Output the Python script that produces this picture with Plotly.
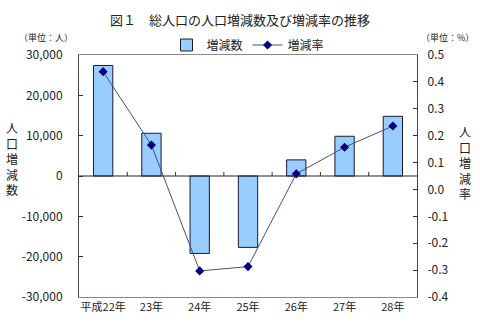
import plotly.graph_objects as go

categories = ["平成22年", "23年", "24年", "25年", "26年", "27年", "28年"]
change_count = [27400, 10600, -19200, -17700, 4000, 9850, 14800]
change_rate = [0.438, 0.165, -0.303, -0.287, 0.058, 0.157, 0.236]
left_ticks = [-30000, -20000, -10000, 0, 10000, 20000, 30000]
left_ticktext = ["-30,000", "-20,000", "-10,000", "0", "10,000", "20,000", "30,000"]
right_ticks = [-0.4, -0.3, -0.2, -0.1, 0.0, 0.1, 0.2, 0.3, 0.4, 0.5]
right_ticktext = ["-0.4", "-0.3", "-0.2", "-0.1", "0.0", "0.1", "0.2", "0.3", "0.4", "0.5"]

FONT = "Noto Sans CJK JP"
W, H = 480, 326
L, R, T, B = 79, 63, 55, 29
PW, PH = W - L - R, H - T - B
x = list(range(len(categories)))

fig = go.Figure()
fig.add_trace(go.Bar(
    x=x, y=change_count, name="増減数", width=0.4,
    marker=dict(color="#99CCFF", line=dict(color="#1a1a2e", width=1)),
    yaxis="y",
))
fig.add_trace(go.Scatter(
    x=x, y=change_rate, name="増減率", mode="lines+markers",
    line=dict(color="#4a4a8c", width=1),
    marker=dict(symbol="diamond", size=7, color="#000080"),
    yaxis="y2",
))

fig.update_layout(
    width=W, height=H,
    margin=dict(l=L, r=R, t=T, b=B),
    paper_bgcolor="white", plot_bgcolor="white",
    font=dict(family=FONT, size=12, color="#222"),
    showlegend=True,
    legend=dict(orientation="h", x=0.5, xanchor="center", y=1 + 10 / PH, yanchor="middle",
                font=dict(size=12), bgcolor="rgba(0,0,0,0)"),
    title=dict(text="図１　総人口の人口増減数及び増減率の推移", x=0.5, xanchor="center",
               y=1 - 20 / H, yanchor="middle", font=dict(size=13, color="#222")),
    xaxis=dict(range=[-0.5, 6.5], tickvals=x, ticktext=categories, ticks="",
               showline=True, mirror=True, linecolor="#888", linewidth=1,
               showgrid=False, zeroline=False, tickfont=dict(size=11)),
    yaxis=dict(range=[-30000, 30000], tickvals=left_ticks, ticktext=left_ticktext,
               ticks="inside", ticklen=4, tickcolor="#333",
               showline=True, linecolor="#444", linewidth=1,
               showgrid=False, zeroline=False,
               tickfont=dict(size=12), ticklabelstandoff=13),
    yaxis2=dict(range=[-0.4, 0.5], tickvals=right_ticks, ticktext=right_ticktext,
                overlaying="y", side="right", anchor="x",
                ticks="inside", ticklen=4, tickcolor="#333",
                showline=True, linecolor="#444", linewidth=1,
                showgrid=False, zeroline=False, tickfont=dict(size=12),
                ticklabelstandoff=7),
)

# zero line of the left axis and category-boundary ticks on it
fig.add_shape(type="line", xref="paper", yref="y", x0=0, x1=1, y0=0, y1=0,
              line=dict(color="#222", width=1), layer="above")
for i in range(len(categories) - 1):
    fig.add_shape(type="line", xref="x", yref="y", x0=i + 0.5, x1=i + 0.5,
                  y0=0, y1=1000, line=dict(color="#333", width=1))

annotations = [
    dict(text="（単位：人）", x=46, y=38, size=9),
    dict(text="（単位：%）", x=448, y=38, size=9),
    dict(text="人<br>口<br>増<br>減<br>数", x=12, y=158, size=12),
    dict(text="人<br>口<br>増<br>減<br>率", x=465, y=162, size=12),
]
for a in annotations:
    fig.add_annotation(text=a["text"], x=(a["x"] - L) / PW, y=(H - B - a["y"]) / PH,
                       xref="paper", yref="paper", xanchor="center", yanchor="middle",
                       showarrow=False,
                       font=dict(family=FONT, color="#222", size=a["size"]))

fig.write_html("out.html")
